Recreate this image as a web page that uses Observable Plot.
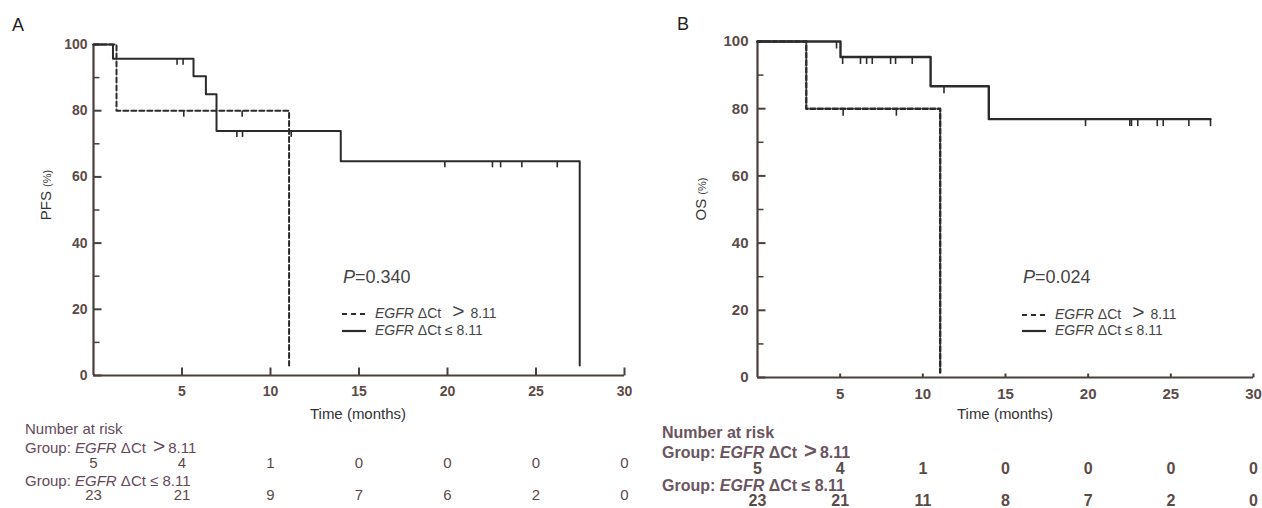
<!DOCTYPE html>
<html><head><meta charset="utf-8">
<script src="https://cdn.jsdelivr.net/npm/d3@7"></script>
<script src="https://cdn.jsdelivr.net/npm/@observablehq/plot@0.6"></script>
<style>
body{margin:0;background:#fff;}
#root{position:relative;width:1262px;height:508px;overflow:hidden;background:#fff;}
.abs{position:absolute;white-space:nowrap;line-height:1;}
.abs svg{vertical-align:middle;}
</style></head><body><div id="root"></div>
<script>
// ---------- data ----------
const xTickValues = [5, 10, 15, 20, 25, 30];
const yTickValues = [0, 20, 40, 60, 80, 100];
const yMinorValues = [10, 30, 50, 70, 90];
const riskTimes = [0, 5, 10, 15, 20, 25, 30];

// Panel A: PFS
const pfsHighTimes = [0, 1.3, 11.05];
const pfsHighSurv = [100, 80, 3];
const pfsHighCensored = [5.1, 8.4];
const pfsLowTimes = [0, 1.1, 5.65, 6.35, 6.95, 13.97, 27.47];
const pfsLowSurv = [100, 95.7, 90.4, 85.0, 73.9, 64.7, 3];
const pfsLowCensored = [4.72, 5.06, 8.1, 8.42, 11.17, 19.85, 22.54, 23.0, 24.2, 26.2];
const pfsRiskHigh = [5, 4, 1, 0, 0, 0, 0];
const pfsRiskLow = [23, 21, 9, 7, 6, 2, 0];
const pfsP = "0.340";

// Panel B: OS
const osHighTimes = [0, 2.95, 11.05];
const osHighSurv = [100, 80, 1.5];
const osHighCensored = [5.18, 8.4];
const osLowTimes = [0, 5.02, 10.47, 13.99, 27.4];
const osLowSurv = [100, 95.4, 86.7, 76.9, 76.9];
const osLowCensored = [4.78, 5.15, 6.23, 6.6, 6.94, 8.05, 8.35, 9.36, 11.28, 19.84, 22.52, 22.62, 23.0, 24.18, 24.54, 26.09, 27.4];
const osRiskHigh = [5, 4, 1, 0, 0, 0, 0];
const osRiskLow = [23, 21, 11, 8, 7, 2, 0];
const osP = "0.024";

// ---------- helpers ----------
const root = document.getElementById("root");
function survAt(T, S, t) { let v = S[0]; for (let i = 0; i < T.length; i++) if (T[i] <= t) v = S[i]; return v; }
const vTick = (len) => ({draw(ctx) { ctx.moveTo(0, 0); ctx.lineTo(0, len); }});
const hTick = (len) => ({draw(ctx) { ctx.moveTo(0, 0); ctx.lineTo(len, 0); }});
const upTick = (len) => ({draw(ctx) { ctx.moveTo(0, 0); ctx.lineTo(0, -len); }});

function addText(parent, html, css) {
  const d = document.createElement("div");
  d.className = "abs";
  d.style.cssText += css;
  d.innerHTML = html;
  parent.appendChild(d);
  return d;
}

function makePanel(c) {
  const panel = document.createElement("div");
  panel.style.cssText = `position:absolute;left:${c.left}px;top:0;width:631px;height:508px;`;
  root.appendChild(panel);

  const high = c.highT.map((t, i) => ({t, s: c.highS[i]}));
  const low = c.lowT.map((t, i) => ({t, s: c.lowS[i]}));
  const highC = c.highC.map(t => ({t, s: survAt(c.highT, c.highS, t)}));
  const lowC = c.lowC.map(t => ({t, s: survAt(c.lowT, c.lowS, t)}));

  const km = Plot.plot({
    width: 631, height: 410,
    marginLeft: c.mL, marginRight: c.mR, marginTop: c.mT, marginBottom: c.mB,
    x: {domain: [0, 30]},
    y: {domain: [0, 100]},
    style: {background: "transparent", overflow: "visible", fontFamily: c.tickFont, fontSize: c.tickSize + "px", fontWeight: c.tickWeight, color: c.tickColor},
    marks: [
      Plot.axisY({ticks: yTickValues, tickSize: 0, tickPadding: c.yPad, label: null}),
      Plot.axisX({ticks: xTickValues, tickSize: 0, tickPadding: c.xPad, label: null}),
      Plot.dot(yTickValues, {x: () => 0, y: d => d, symbol: hTick(c.majorLen), stroke: c.axisColor, strokeWidth: 2, r: 3}),
      Plot.dot(yMinorValues, {x: () => 0, y: d => d, symbol: hTick(c.minorLen), stroke: c.axisColor, strokeWidth: 1.5, r: 3}),
      Plot.dot(xTickValues, {x: d => d, y: () => 0, symbol: upTick(c.xTickLen), stroke: c.axisColor, strokeWidth: 2, r: 3}),
      Plot.ruleX([0], {stroke: c.axisColor, strokeWidth: 2.2}),
      Plot.ruleY([0], {stroke: c.axisColor, strokeWidth: 2.2}),
      Plot.line(low, {x: "t", y: "s", curve: "step-after", stroke: c.lineColor, strokeWidth: c.lineW}),
      Plot.line(high, {x: "t", y: "s", curve: "step-after", stroke: c.lineColor, strokeWidth: c.lineW, strokeDasharray: c.dash}),
      Plot.dot(lowC, {x: "t", y: "s", symbol: vTick(c.censLen), stroke: c.lineColor, strokeWidth: 1.6, r: 3}),
      Plot.dot(highC, {x: "t", y: "s", symbol: vTick(c.censLen), stroke: c.lineColor, strokeWidth: 1.6, r: 3})
    ]
  });
  km.style.position = "absolute"; km.style.left = "0px"; km.style.top = "0px";
  panel.appendChild(km);

  const riskData = riskTimes.flatMap((t, i) => [
    {t, row: "high", n: c.riskHigh[i]},
    {t, row: "low", n: c.riskLow[i]}
  ]);
  const risk = Plot.plot({
    width: 631, height: 88,
    marginLeft: c.mL, marginRight: c.mR, marginTop: c.rT, marginBottom: c.rB,
    x: {domain: [0, 30], axis: null},
    y: {type: "point", domain: ["high", "low"], padding: 0, axis: null},
    style: {background: "transparent", overflow: "visible", fontFamily: c.riskFont, fontSize: c.riskSize + "px", fontWeight: c.riskWeight, color: c.riskColor},
    marks: [
      Plot.text(riskData, {x: "t", y: "row", text: d => String(d.n), fill: c.riskColor})
    ]
  });
  risk.style.position = "absolute"; risk.style.left = "0px"; risk.style.top = "420px";
  panel.appendChild(risk);

  // panel letter
  addText(panel, c.letter, `left:${c.letterX}px;top:${c.letterY}px;font:18px 'Liberation Sans',Arial,sans-serif;color:#222;`);
  // y label
  addText(panel, `${c.yLabel} <span style="font-size:11px">(%)</span>`,
    `left:${c.yLabX}px;top:${c.yLabY}px;font:15px 'Liberation Sans',Arial,sans-serif;color:#333;transform:translate(-50%,-50%) rotate(-90deg);`);
  // x label
  addText(panel, "Time (months)", `left:${c.xLabX}px;top:${c.xLabY}px;font:15px 'Liberation Sans',Arial,sans-serif;color:#333;transform:translate(-50%,-50%);`);
  // p value & legend
  const lg = `font:14px 'Liberation Sans',Arial,sans-serif;color:#444;`;
  addText(panel, `<i>P</i>=${c.p}`, `left:${c.legX + 1}px;top:${c.pY}px;font:18px 'Liberation Sans',Arial,sans-serif;color:#444;transform:translateY(-50%);`);
  const sw = (dash) => `<svg width="24" height="4" style="margin-right:9px"><line x1="0" x2="24" y1="2" y2="2" stroke="#2b2b2b" stroke-width="2.2" ${dash ? 'stroke-dasharray="5,4"' : ''}/></svg>`;
  addText(panel, `${sw(true)}<i>EGFR</i> ΔCt<span style="font-size:21px;margin:0 6px 0 11px">&gt;</span>8.11`, `left:${c.legX}px;top:${c.l1Y}px;${lg}transform:translateY(-50%);`);
  addText(panel, `${sw(false)}<i>EGFR</i> ΔCt ≤ 8.11`, `left:${c.legX}px;top:${c.l2Y}px;${lg}transform:translateY(-50%);`);
  // risk table headings
  const rf = `font-family:${c.riskFont};font-size:${c.riskHeadSize}px;color:${c.headColor};font-weight:${c.headWeight};transform:translateY(-50%);`;
  addText(panel, "Number at risk", `left:${c.headX}px;top:${c.h0Y}px;${rf}`);
  addText(panel, `Group: <i>EGFR</i> ΔCt<span style="font-size:${c.riskHeadSize + 6}px;margin:0 3px 0 7px">&gt;</span>8.11`, `left:${c.headX}px;top:${c.h1Y}px;${rf}`);
  addText(panel, `Group: <i>EGFR</i> ΔCt ≤ 8.11`, `left:${c.headX}px;top:${c.h2Y}px;${rf}`);
}

const arial = "'Liberation Sans',Arial,sans-serif";

makePanel({
  left: 0, letter: "A", letterX: 12, letterY: 15,
  highT: pfsHighTimes, highS: pfsHighSurv, highC: pfsHighCensored,
  lowT: pfsLowTimes, lowS: pfsLowSurv, lowC: pfsLowCensored,
  riskHigh: pfsRiskHigh, riskLow: pfsRiskLow, p: pfsP,
  mL: 93, mR: 7, mT: 44, mB: 35,
  tickFont: arial, tickSize: 14, tickWeight: "bold", tickColor: "#5c4a46",
  yPad: 6, xPad: 11, majorLen: 8, minorLen: 6, xTickLen: 8,
  axisColor: "#4a3f3c", lineColor: "#2b2b2b", lineW: 2, dash: "5,3", censLen: 6,
  rT: 43, rB: 13, riskFont: arial, riskSize: 15, riskWeight: "normal", riskColor: "#5c4a46",
  riskHeadSize: 15, headColor: "#65495a", headWeight: "normal", headX: 25, h0Y: 428, h1Y: 445, h2Y: 480,
  yLabel: "PFS", yLabX: 45, yLabY: 195, xLabX: 358, xLabY: 413,
  legX: 342, pY: 277, l1Y: 311, l2Y: 330
});

makePanel({
  left: 631, letter: "B", letterX: 46, letterY: 14,
  highT: osHighTimes, highS: osHighSurv, highC: osHighCensored,
  lowT: osLowTimes, lowS: osLowSurv, lowC: osLowCensored,
  riskHigh: osRiskHigh, riskLow: osRiskLow, p: osP,
  mL: 126, mR: 9, mT: 41, mB: 33,
  tickFont: arial, tickSize: 15, tickWeight: "bold", tickColor: "#5a4b48",
  yPad: 9, xPad: 11, majorLen: 8, minorLen: 6, xTickLen: 4,
  axisColor: "#4a3f3c", lineColor: "#2b2b2b", lineW: 2.4, dash: "5,2.5", censLen: 7,
  rT: 48, rB: 8, riskFont: arial, riskSize: 16, riskWeight: "bold", riskColor: "#5a4b48",
  riskHeadSize: 16, headColor: "#6a5560", headWeight: "bold", headX: 31, h0Y: 433, h1Y: 451, h2Y: 486,
  yLabel: "OS", yLabX: 69, yLabY: 199, xLabX: 374, xLabY: 413,
  legX: 391, pY: 277, l1Y: 312, l2Y: 330
});
</script>
</body></html>
